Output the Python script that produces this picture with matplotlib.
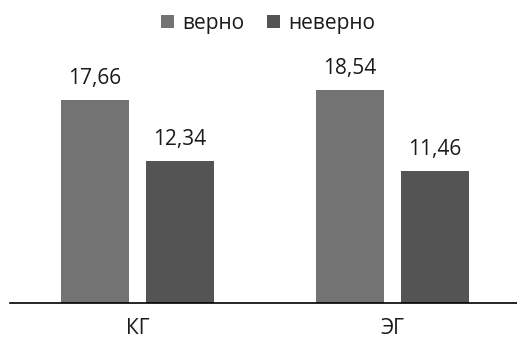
import matplotlib
matplotlib.use("Agg")
import matplotlib.pyplot as plt
import numpy as np

categories = ["КГ", "ЭГ"]
series_names = ["верно", "неверно"]
correct = [17.66, 18.54]
incorrect = [12.34, 11.46]
value_labels_correct = ["17,66", "18,54"]
value_labels_incorrect = ["12,34", "11,46"]

colors = ["#737373", "#545454"]

plt.rcParams["font.family"] = ["Open Sans", "DejaVu Sans"]
FS = 15

fig = plt.figure(figsize=(5.17, 3.42), dpi=100)
ax = fig.add_axes([10 / 517, 39 / 342, 510 / 517, 273 / 342])

x = np.arange(len(categories))
w = 0.267
off = 0.1667
b1 = ax.bar(x - off, correct, w, color=colors[0], label=series_names[0])
b2 = ax.bar(x + off, incorrect, w, color=colors[1], label=series_names[1])

for bars, labels in ((b1, value_labels_correct), (b2, value_labels_incorrect)):
    for rect, lab in zip(bars, labels):
        ax.annotate(lab, (rect.get_x() + rect.get_width() / 2, rect.get_height()),
                    xytext=(0, 8), textcoords="offset points",
                    ha="center", va="bottom", fontsize=FS, color="#1a1a1a")

ax.set_xlim(-0.5, 1.5)
ax.set_ylim(0, 273 / 11.5)
ax.set_yticks([])
ax.set_xticks(x)
ax.set_xticklabels(categories, fontsize=FS, color="#1a1a1a")
ax.tick_params(axis="x", length=0, pad=11)
for s in ("top", "right", "left"):
    ax.spines[s].set_visible(False)
ax.spines["bottom"].set_color("#000000")
ax.spines["bottom"].set_linewidth(1.2)

fig.legend(loc="center", bbox_to_anchor=(0.519, 1 - 23 / 342), ncol=2, frameon=False,
           fontsize=FS, handlelength=0.6, handleheight=0.6, handletextpad=0.4,
           columnspacing=1.1, labelcolor="#1a1a1a", borderpad=0)

fig.savefig("out.png", dpi=100)
